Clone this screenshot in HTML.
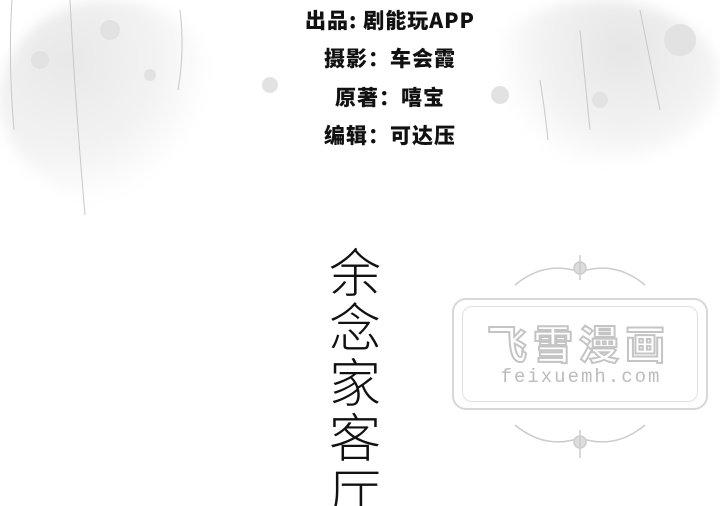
<!DOCTYPE html>
<html><head><meta charset="utf-8">
<style>
html,body{margin:0;padding:0}
body{width:720px;height:506px;overflow:hidden;background:#fff;position:relative;font-family:"Liberation Sans","Noto Sans CJK SC",sans-serif}
#clip{position:absolute;left:0;top:0;width:720px;height:506px;overflow:hidden}
.bg{position:absolute;border-radius:50%;filter:blur(6px)}
.credit{position:absolute;left:250px;width:280px;text-align:center;font-weight:900;font-size:21px;color:#111;letter-spacing:1px;font-family:"Noto Sans CJK SC","WenQuanYi Zen Hei",sans-serif}
.vt{position:absolute;left:322px;width:66px;text-align:center;font-family:"Noto Sans CJK SC",sans-serif;font-weight:300;font-size:52px;line-height:55px;color:#111}
.wm{position:absolute;left:452px;top:298px;width:256px;height:112px;border:2px solid #d8d8d8;border-radius:14px;box-sizing:border-box}
.wm2{position:absolute;left:462px;top:306px;width:236px;height:96px;border:1.5px solid #e2e2e2;border-radius:10px;box-sizing:border-box}
</style></head><body>
<div id="clip">
<div class="bg" style="left:0px;top:0px;width:220px;height:200px;background:radial-gradient(circle at 30% 30%,#e8e8e8 0%,#f3f3f3 45%,rgba(255,255,255,0) 70%)"></div>
<div class="bg" style="left:480px;top:0px;width:240px;height:160px;background:radial-gradient(circle at 60% 30%,#e6e6e6 0%,#f2f2f2 45%,rgba(255,255,255,0) 70%)"></div>
<svg width="720" height="506" style="position:absolute;left:0;top:0">
<g stroke="#c8c8c8" stroke-width="1" fill="none">
<path d="M70 0 Q75 100 85 215"/><path d="M12 0 Q8 60 14 130"/><path d="M180 10 Q185 50 178 90"/>
<path d="M580 30 Q585 80 590 130"/><path d="M640 10 Q650 60 660 110"/><path d="M540 80 Q545 110 548 140"/>
</g>
<g fill="#e2e2e2"><circle cx="40" cy="60" r="9"/><circle cx="110" cy="30" r="10"/><circle cx="270" cy="85" r="8"/><circle cx="500" cy="95" r="9"/><circle cx="600" cy="100" r="8"/><circle cx="680" cy="40" r="16"/><circle cx="150" cy="75" r="6"/></g>
</svg>
<div class="credit" style="top:5px">出品: 剧能玩APP</div>
<div class="credit" style="top:43px">摄影：车会霞</div>
<div class="credit" style="top:82px">原著：嘻宝</div>
<div class="credit" style="top:120px">编辑：可达压</div>
<div class="vt" style="top:242px">余<br>念<br>家<br>客<br>厅</div>
<div class="wm"></div>
<div class="wm2"></div>
<svg width="720" height="506" style="position:absolute;left:0;top:0">
<g stroke="#ccc" stroke-width="1.5" fill="none">
<path d="M515 285 Q545 260 580 272 Q615 260 645 285"/><circle cx="580" cy="268" r="6" fill="#ddd"/>
<path d="M515 425 Q545 450 580 438 Q615 450 645 425"/><circle cx="580" cy="442" r="6" fill="#ddd"/>
<path d="M580 255 L580 280"/><path d="M580 430 L580 458"/>
</g></svg>
<div style="position:absolute;left:468px;top:318px;width:222px;text-align:center;font-size:40px;font-weight:700;color:#fff;-webkit-text-stroke:2px #c4c4c4;letter-spacing:6px;font-family:'Noto Sans CJK SC',sans-serif;line-height:48px">飞雪漫画</div>
<div style="position:absolute;left:470px;top:366px;width:222px;text-align:center;font-size:19px;color:#bcbcbc;letter-spacing:2px;font-family:'Liberation Mono',monospace">feixuemh.com</div>
</div>
</body></html>
